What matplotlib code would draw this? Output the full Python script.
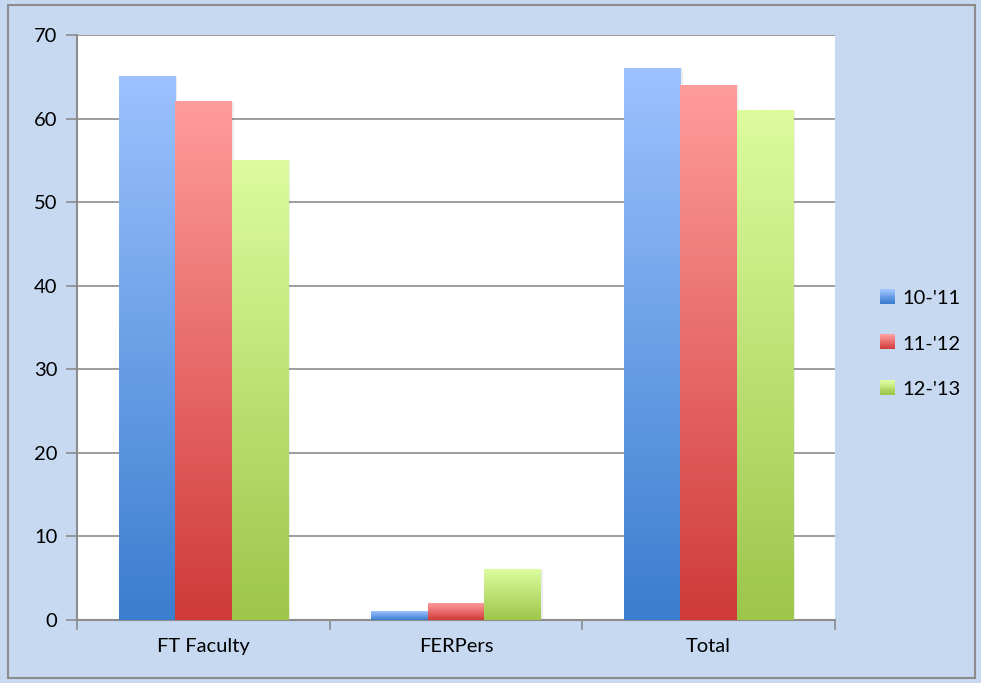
import numpy as np
import matplotlib
matplotlib.use("Agg")
import matplotlib.pyplot as plt
from matplotlib.colors import LinearSegmentedColormap
from matplotlib.patches import Rectangle, Patch
from matplotlib.legend_handler import HandlerBase

categories = ["FT Faculty", "FERPers", "Total"]
series_names = ["10-'11", "11-'12", "12-'13"]
v_1011 = [65, 1, 66]
v_1112 = [62, 2, 64]
v_1213 = [55, 6, 61]
values = [v_1011, v_1112, v_1213]

tops = ["#9cc2ff", "#ff9c9c", "#dcfc9e"]
bottoms = ["#3b7dce", "#cf3a38", "#9dc64a"]

plt.rcParams['font.family'] = ['Lato', 'DejaVu Sans']
FS = 14.5

fig = plt.figure(figsize=(9.81, 6.83), dpi=100)
fig.patch.set_facecolor("#c6d9f1")
fig.add_artist(Rectangle((8/981, 1-678/683), 967/981, 673/683, transform=fig.transFigure,
                         fill=False, edgecolor="#8c8c8c", lw=1.5))

ax = fig.add_axes([77/981, 1-620/683, (835-77)/981, (620-35)/683])
ax.set_facecolor("white")

bw = 0.223
x = np.arange(len(categories)) + 0.5
grad = np.linspace(0, 1, 256).reshape(-1, 1)
for i, (vals, name) in enumerate(zip(values, series_names)):
    cmap = LinearSegmentedColormap.from_list(name, [bottoms[i], tops[i]])
    xs = x + (i - 1) * bw
    bars = ax.bar(xs, vals, width=bw, color=tops[i], label=name, zorder=3)
    for b in bars:
        x0, w, h = b.get_x(), b.get_width(), b.get_height()
        ax.add_patch(Rectangle((x0 + 0.008, 0), w, h, facecolor="#000000", alpha=0.07,
                               lw=0, zorder=2.5))
        ax.imshow(grad, extent=(x0, x0 + w, 0, h), origin="lower", aspect="auto",
                  cmap=cmap, zorder=3.5)
ax.set_xlim(0, 3)
ax.set_ylim(0, 70)

ax.set_yticks(np.arange(0, 71, 10))
ax.yaxis.grid(True, color="#8c8c8c", lw=1.2, zorder=1)
ax.set_axisbelow(True)
ax.set_xticks([0, 1, 2, 3])
ax.set_xticklabels([])
ax.set_xticks(x, minor=True)
ax.set_xticklabels(categories, minor=True)
ax.tick_params(axis="x", which="minor", length=0, pad=13, labelsize=FS)
ax.tick_params(axis="x", which="major", length=7, width=1.2, color="#8c8c8c", direction="out")
ax.tick_params(axis="y", length=8, width=1.2, color="#8c8c8c", direction="out", pad=6, labelsize=FS)
for s in ["top", "right"]:
    ax.spines[s].set_visible(False)
for s in ["left", "bottom"]:
    ax.spines[s].set_color("#8c8c8c")
    ax.spines[s].set_linewidth(1.5)


class GradHandler(HandlerBase):
    def __init__(self, top, bottom):
        super().__init__()
        self.top, self.bottom = top, bottom

    def create_artists(self, legend, orig_handle, xd, yd, width, height, fontsize, trans):
        arts = []
        n = 8
        for k in range(n):
            f = k / (n - 1)
            c = (np.array(matplotlib.colors.to_rgb(self.bottom)) * (1 - f)
                 + np.array(matplotlib.colors.to_rgb(self.top)) * f)
            arts.append(Rectangle((xd, yd + height * k / n), width, height / n + 0.3,
                                  facecolor=c, lw=0, transform=trans))
        return arts


handles = [Patch(label=n) for n in series_names]
leg = fig.legend(handles, series_names, loc="center left", bbox_to_anchor=(862/981, 1-344/683),
                 frameon=False, fontsize=FS, handlelength=0.75, handleheight=0.75, handletextpad=0.35,
                 labelspacing=1.4,
                 handler_map={h: GradHandler(tops[i], bottoms[i]) for i, h in enumerate(handles)})

fig.savefig("out.png", dpi=100, facecolor=fig.get_facecolor())
